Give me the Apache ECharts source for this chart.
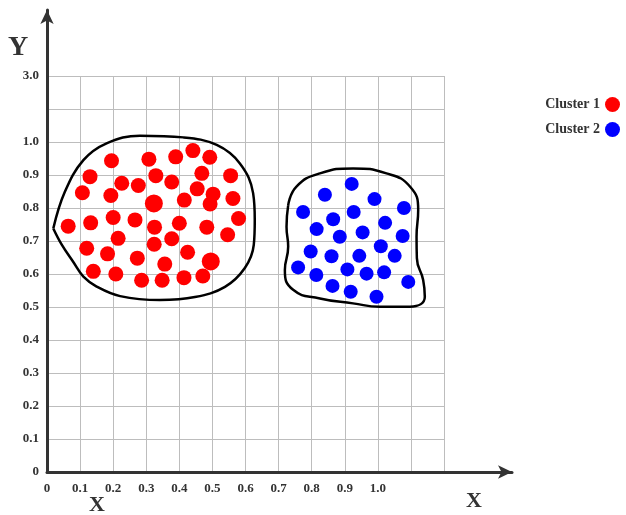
<!DOCTYPE html>
<html>
<head>
<meta charset="utf-8">
<script src="https://cdn.jsdelivr.net/npm/echarts@6/dist/echarts.min.js"></script>
<style>html,body{margin:0;padding:0;background:#fff}#c{width:626px;height:515px}</style>
</head>
<body>
<div id="c"></div>
<script>
// Tick labels (value axis positions 0, 0.1, ... 1.2)
const xTickLabels = ['0','0.1','0.2','0.3','0.4','0.5','0.6','0.7','0.8','0.9','1.0','',''];
const yTickLabels = ['0','0.1','0.2','0.3','0.4','0.5','0.6','0.7','0.8','0.9','1.0','','3.0'];

const seriesNames = ['Cluster 1', 'Cluster 2'];

const cluster1 = [
  [0.195,0.943],[0.308,0.948],[0.389,0.955],[0.441,0.974],[0.492,0.954],
  [0.130,0.895],[0.329,0.898],[0.468,0.905],[0.555,0.898],[0.226,0.875],
  [0.276,0.868],[0.377,0.879],[0.454,0.858],[0.107,0.846],[0.193,0.838],
  [0.323,0.814],[0.415,0.824],[0.502,0.842],[0.493,0.812],[0.562,0.829],
  [0.064,0.745],[0.132,0.755],[0.200,0.771],[0.266,0.764],[0.325,0.742],
  [0.400,0.754],[0.483,0.742],[0.579,0.768],[0.546,0.719],[0.215,0.708],
  [0.377,0.707],[0.324,0.690],[0.120,0.678],[0.183,0.661],[0.273,0.648],
  [0.425,0.666],[0.356,0.630],[0.495,0.638],[0.140,0.608],[0.208,0.600],
  [0.286,0.581],[0.348,0.581],[0.414,0.589],[0.471,0.594]
];

const cluster2 = [
  [0.921,0.873],[0.840,0.840],[0.990,0.827],[0.774,0.788],[1.079,0.800],
  [0.927,0.788],[0.865,0.766],[1.022,0.755],[0.815,0.736],[0.885,0.713],
  [0.954,0.726],[1.075,0.715],[0.797,0.668],[1.009,0.684],[0.860,0.654],
  [0.944,0.655],[1.051,0.655],[0.759,0.620],[0.814,0.597],[0.908,0.614],
  [0.966,0.601],[1.019,0.605],[1.092,0.576],[0.863,0.564],[0.918,0.546],
  [0.996,0.531]
];

const outline1 = [
  [0.019,0.738],[0.054,0.849],[0.110,0.945],[0.180,0.996],[0.281,1.019],
  [0.412,1.014],[0.513,0.991],[0.583,0.935],[0.623,0.845],[0.628,0.764],
  [0.625,0.688],[0.598,0.618],[0.538,0.561],[0.447,0.530],[0.341,0.521],
  [0.221,0.533],[0.150,0.562],[0.110,0.592],[0.079,0.637],[0.045,0.688],
  [0.019,0.738]
];

const outline2 = [
  [0.729,0.808],[0.754,0.865],[0.825,0.905],[0.925,0.920],[1.026,0.905],
  [1.097,0.865],[1.122,0.794],[1.117,0.713],[1.118,0.648],[1.137,0.582],
  [1.142,0.531],[1.097,0.501],[1.006,0.501],[0.925,0.511],[0.825,0.526],
  [0.744,0.552],[0.719,0.612],[0.729,0.683],[0.724,0.743],[0.729,0.808]
];

const FONT = 'Liberation Serif';
const bigRed = new Set([15, 37]);

const chart = echarts.init(document.getElementById('c'), null, {renderer: 'canvas'});
chart.setOption({
  backgroundColor: '#fff',
  animation: false,
  legend: {
    data: seriesNames,
    orient: 'vertical',
    right: 1,
    top: 92,
    align: 'right',
    itemGap: 10,
    itemWidth: 15,
    itemHeight: 15,
    icon: 'circle',
    textStyle: {fontFamily: FONT, fontWeight: 'bold', fontSize: 14, color: '#333'}
  },
  graphic: [
    {type: 'text', left: 8, top: 34, style: {text: 'Y', fontFamily: FONT, fontWeight: 'bold', fontSize: 28, fill: '#333'}},
    {type: 'text', left: 89, top: 494, style: {text: 'X', fontFamily: FONT, fontWeight: 'bold', fontSize: 22, fill: '#333'}},
    {type: 'text', left: 466, top: 490, style: {text: 'X', fontFamily: FONT, fontWeight: 'bold', fontSize: 22, fill: '#333'}}
  ],
  grid: [
    {left: 47, right: 114, top: 10, bottom: 43},
    {left: 47, right: 182, top: 76, bottom: 43}
  ],
  xAxis: [
    {
      gridIndex: 0, type: 'value', min: 0, max: 1,
      axisLine: {show: true, symbol: ['none', 'arrow'], symbolSize: [10, 14], lineStyle: {color: '#333', width: 3}},
      axisTick: {show: false}, axisLabel: {show: false}, splitLine: {show: false}
    },
    {
      gridIndex: 1, type: 'value', min: 0, max: 1.2, interval: 0.1,
      axisLine: {show: false}, axisTick: {show: false},
      splitLine: {show: true, lineStyle: {color: '#bdbdbd', width: 1}},
      axisLabel: {
        show: true, margin: 10, fontFamily: FONT, fontWeight: 'bold', fontSize: 13, color: '#333',
        formatter: v => xTickLabels[Math.round(v * 10)] || ''
      }
    }
  ],
  yAxis: [
    {
      gridIndex: 0, type: 'value', min: 0, max: 1,
      axisLine: {show: true, symbol: ['none', 'arrow'], symbolSize: [10, 14], lineStyle: {color: '#333', width: 3}},
      axisTick: {show: false}, axisLabel: {show: false}, splitLine: {show: false}
    },
    {
      gridIndex: 1, type: 'value', min: 0, max: 1.2, interval: 0.1,
      axisLine: {show: false}, axisTick: {show: false},
      splitLine: {show: true, lineStyle: {color: '#bdbdbd', width: 1}},
      axisLabel: {
        show: true, margin: 8, fontFamily: FONT, fontWeight: 'bold', fontSize: 13, color: '#333',
        formatter: v => yTickLabels[Math.round(v * 10)] || ''
      }
    }
  ],
  series: [
    {
      name: 'outline1', type: 'line', xAxisIndex: 1, yAxisIndex: 1,
      data: outline1, smooth: 0.4, showSymbol: false, symbol: 'none',
      lineStyle: {color: '#000', width: 2.5}, z: 3, silent: true
    },
    {
      name: 'outline2', type: 'line', xAxisIndex: 1, yAxisIndex: 1,
      data: outline2, smooth: 0.5, showSymbol: false, symbol: 'none',
      lineStyle: {color: '#000', width: 2.5}, z: 3, silent: true
    },
    {
      name: seriesNames[0], type: 'scatter', xAxisIndex: 1, yAxisIndex: 1,
      data: cluster1,
      symbolSize: (val, p) => bigRed.has(p.dataIndex) ? 18 : 15,
      itemStyle: {color: '#ff0000', opacity: 1}, z: 4
    },
    {
      name: seriesNames[1], type: 'scatter', xAxisIndex: 1, yAxisIndex: 1,
      data: cluster2, symbolSize: 14,
      itemStyle: {color: '#0000ff', opacity: 1}, z: 4
    }
  ]
});
</script>
</body>
</html>
